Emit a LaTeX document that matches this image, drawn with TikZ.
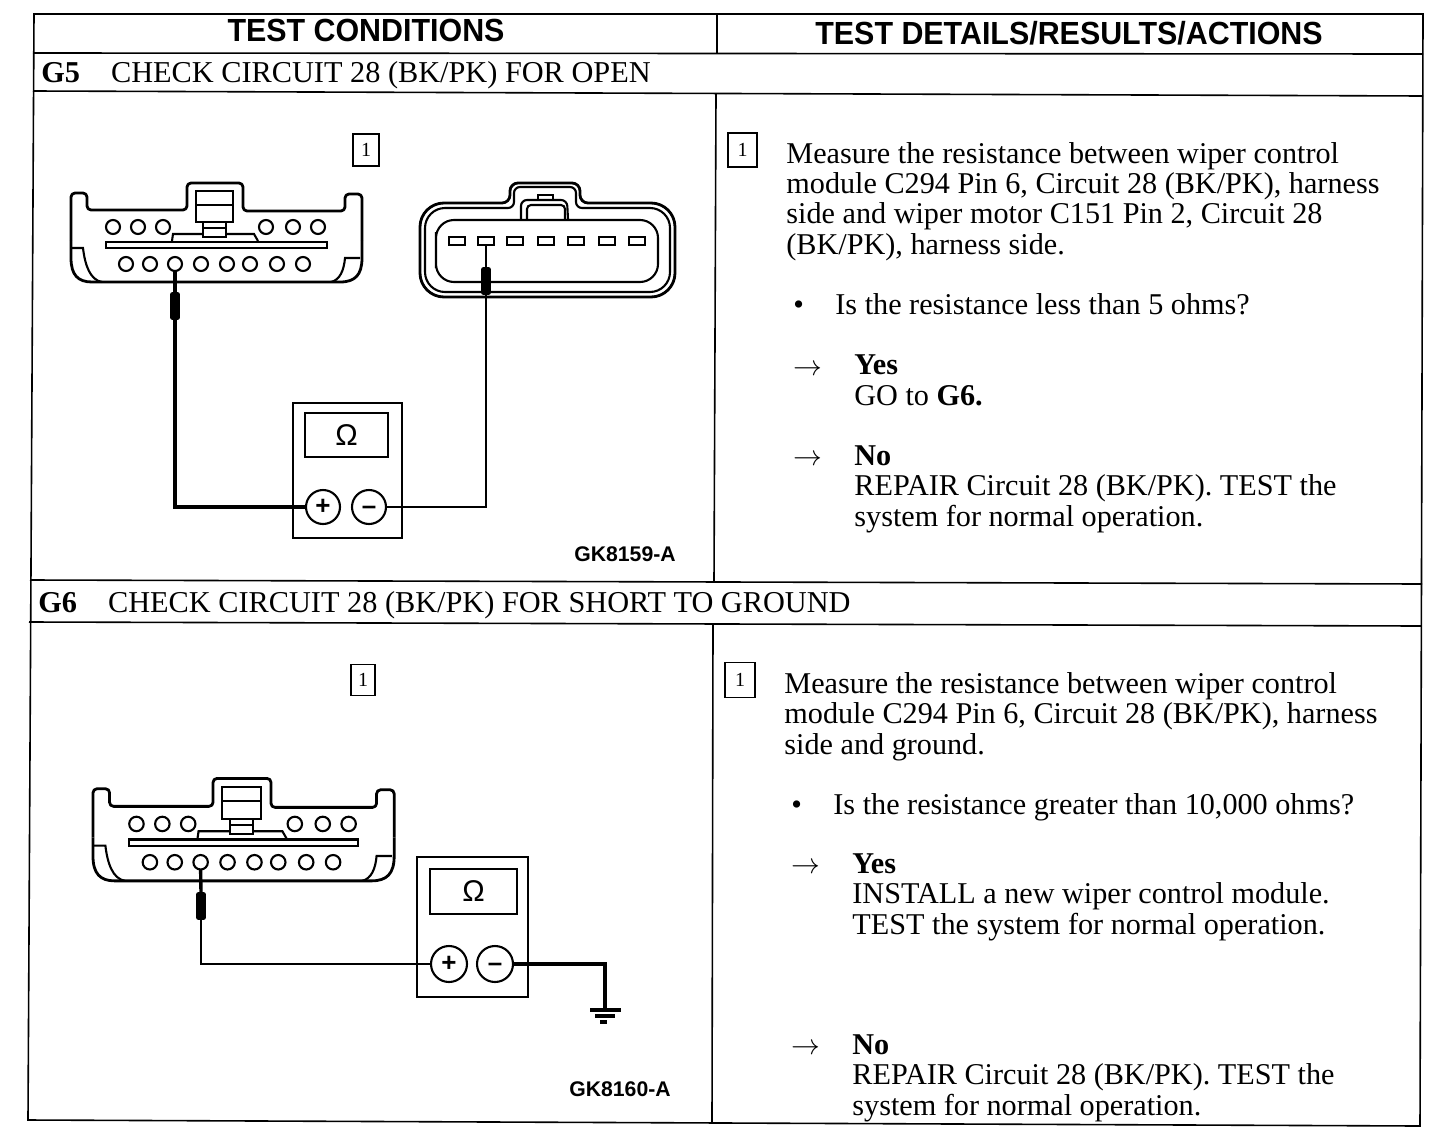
\documentclass[tikz,border=0pt]{standalone}
\usepackage{fontspec}
\setmainfont{Liberation Serif}
\setsansfont{Liberation Sans}
\newfontfamily\headfont[FakeStretch=0.95]{Liberation Sans}
\usetikzlibrary{arrows}

\tikzset{
  rule/.style={line width=0.8pt},
  conn/.style={line width=1.4pt,line join=round},
  thinconn/.style={line width=1.05pt},
  wire/.style={line width=1.7pt},
  thinwire/.style={line width=1.25pt},
  probe/.style={fill=black,draw=black,rounded corners=1pt,inner sep=0pt,minimum width=4.5pt,minimum height=13.5pt},
  term/.style={circle,draw,line width=1.05pt,fill=white,inner sep=0pt,minimum size=17pt,font=\sffamily\bfseries\fontsize{13}{13}\selectfont},
  meter/.style={draw,line width=1.4pt,inner sep=0pt},
  display/.style={draw,line width=1.1pt,inner sep=0pt,font=\sffamily\fontsize{15}{15}\selectfont},
  numbox/.style={draw,line width=0.7pt,inner sep=0pt,minimum width=13pt,minimum height=16pt,font=\fontsize{10}{10}\selectfont},
  head/.style={font=\headfont\bfseries\fontsize{16}{16}\selectfont,inner sep=0pt},
  title/.style={anchor=base west,inner sep=0pt,font=\fontsize{15.15}{15.15}\selectfont},
  body/.style={anchor=base west,inner sep=0pt,align=left,font=\fontsize{15.1}{15.15}\selectfont},
  figno/.style={font=\sffamily\bfseries\fontsize{10.6}{10.6}\selectfont,inner sep=0pt},
}

% wiper control module connector, drawn at G5 position
\newcommand{\wipermodule}[1]{
\draw [conn,rounded corners=2pt] (71,240) -- (71,193) -- (87,193) -- (87,210) -- (187,210) -- (187,183) -- (243,183) -- (243,211) -- (345,211) -- (345,194) -- (362,194) -- (362,240);
\draw [conn] (362,240) -- (362,258) .. controls (362,275) and (355,282) .. (340,282) -- (92,282) .. controls (78,282) and (71,275) .. (71,258) -- (71,240);
\draw [thinconn] (72,248) -- (83,248) .. controls (85,265) and (90,280) .. (102,282);
\draw [thinconn] (360,258) -- (345,258) .. controls (344,270) and (340,280) .. (331,282);
\draw [thinconn] (106,242) rectangle (327,248);
\draw [thinconn] (172,241) -- (173,234) -- (254,234) -- (258,241);
\draw [thinconn,fill=white] (196,191) rectangle (233,222);
\draw [thinconn] (196,205) -- (233,205);
\draw [thinconn,fill=white] (203,222) rectangle (226,237);
\draw [thinconn] (203,228) -- (226,228);
\foreach \x in {113,138,163,266,293,318}
  \draw [thinconn] (\x,227) circle (3.5pt);
\foreach \x in {126,150,175,201,227,250,277,303}
  \draw [thinconn] (\x,264) circle (3.5pt);
\coordinate (#1) at (175,271);
}

\begin{document}
\begin{tikzpicture}[x=0.5pt,y=-0.5pt]
\useasboundingbox (0,0) rectangle (1456,1140);

% table
\draw [rule] (34,14) -- (1423,14) -- (1420,1126) -- (28,1120) -- cycle;
\draw [rule] (33,53) -- (1423,54);
\draw [rule] (33,91) -- (1423,96);
\draw [rule] (30,580) -- (1422,584);
\draw [rule] (29,622) -- (1421,626);
\draw [rule] (717,14) -- (717,54);
\draw [rule] (716,94) -- (714,582);
\draw [rule] (713,625) -- (712,1122);

% headers
\node [head] (condhead) at (366,30) {TEST CONDITIONS};
\node [head] (detailhead) at (1069,33) {TEST DETAILS/RESULTS/ACTIONS};
\node [title] (gfive) at (41,82) {\textbf{G5}\hspace{15.5pt}CHECK CIRCUIT 28 (BK/PK) FOR OPEN};
\node [title] (gsix) at (38,612) {\textbf{G6}\hspace{15.5pt}CHECK CIRCUIT 28 (BK/PK) FOR SHORT TO GROUND};

% G5 picture
\node [numbox] (stepa) at (366,150) {1};
\wipermodule{pina}
\node [probe] (probea) at (175,306) {};
\draw [wire] (pina) -- (probea.north);

\draw [conn,rounded corners=12pt] (420,250) -- (420,203) [rounded corners=4pt] -- (510,203) -- (510,183) -- (580,183) -- (580,203) [rounded corners=12pt] -- (675,203) -- (675,297) -- (420,297) -- cycle;
\draw [thinconn,rounded corners=10pt] (425,250) -- (425,208) [rounded corners=3pt] -- (514,208) -- (514,187) -- (576,187) -- (576,208) [rounded corners=10pt] -- (670,208) -- (670,292) -- (425,292) -- cycle;
\draw [thinconn,rounded corners=9pt] (436,250) -- (436,220) -- (658,220) -- (658,282) -- (436,282) -- cycle;
\draw [thinconn,rounded corners=3pt] (521,219) -- (521,200) -- (567,200) -- (568,219);
\draw [thinconn,rounded corners=2pt] (527,219) -- (527,205) -- (565,205) -- (565,219);
\draw [thinconn] (538,200) -- (538,195) -- (553,195) -- (553,200);
\foreach \x in {457,486,515,546,576,607,637}
  \draw [thinconn] (\x-8,237) rectangle (\x+8,245);
\coordinate (pinb) at (486,245);
\node [probe] (probeb) at (486,281) {};
\draw [thinconn] (pinb) -- (probeb.north);

\node [meter,minimum width=54.5pt,minimum height=67.5pt] (metera) at (347.5,470.5) {};
\node [display,minimum width=41.5pt,minimum height=22pt] (dispa) at (346.5,435) {Ω};
\node [term] (plusa) at (323,507) {+};
\node [term] (minusa) at (369,507) {\vphantom{+}--};
\draw [wire] (probea.south) |- (plusa.west);
\draw [thinwire] (minusa.east) -| (probeb.south);
\node [figno] (figa) at (625,554) {GK8159-A};

% G5 text
\node [numbox,minimum width=14.5pt,minimum height=17pt] (stepb) at (742.5,150) {1};
\node [body] (measa) at (786,254) {Measure the resistance between wiper control\\module C294 Pin 6, Circuit 28 (BK/PK), harness\\side and wiper motor C151 Pin 2, Circuit 28\\(BK/PK), harness side.};
\node [body] (bula) at (793,314) {\textbullet};
\node [body] (quesa) at (835,314) {Is the resistance less than 5 ohms?};
\node [body] (arra) at (793,375) {$\rightarrow$};
\node [body] (yesa) at (854,405) {\textbf{Yes}\\GO to \textbf{G6.}};
\node [body] (arrb) at (793,465) {$\rightarrow$};
\node [body] (noa) at (854,526) {\textbf{No}\\REPAIR Circuit 28 (BK/PK). TEST the\\system for normal operation.};

% G6 picture
\node [numbox,minimum width=12pt,minimum height=15.5pt] (stepc) at (363,680) {1};
\begin{scope}[shift={(19.5,589)},scale=1.035]
\wipermodule{pinc}
\end{scope}
\node [probe] (probec) at (201,906) {};
\draw [wire] (pinc) -- (probec.north);

\node [meter,minimum width=55.5pt,minimum height=70pt] (meterb) at (472.5,927) {};
\node [display,minimum width=43.5pt,minimum height=22.5pt] (dispb) at (473.5,891.5) {Ω};
\node [term,minimum size=18pt] (plusb) at (449,964) {+};
\node [term,minimum size=18pt] (minusb) at (495,964) {\vphantom{+}--};
\coordinate (gnd) at (605,1010);
\draw [thinwire] (probec.south) |- (plusb.west);
\draw [wire] (minusb.east) -| (gnd);
\draw [wire] (590,1010) -- (621,1010);
\draw [wire] (595,1016) -- (615,1016);
\draw [wire] (600,1022) -- (607,1022);
\node [figno] (figb) at (620,1089) {GK8160-A};

% G6 text
\node [numbox,minimum width=15pt,minimum height=17.5pt] (stepd) at (740,680) {1};
\node [body] (measb) at (784,754) {Measure the resistance between wiper control\\module C294 Pin 6, Circuit 28 (BK/PK), harness\\side and ground.};
\node [body] (bulb) at (791,814) {\textbullet};
\node [body] (quesb) at (833,814) {Is the resistance greater than 10,000 ohms?};
\node [body] (arrc) at (791,873) {$\rightarrow$};
\node [body] (yesb) at (852,934) {\textbf{Yes}\\INSTALL a new wiper control module.\\TEST the system for normal operation.};
\node [body] (arrd) at (791,1054) {$\rightarrow$};
\node [body] (nob) at (852,1115) {\textbf{No}\\REPAIR Circuit 28 (BK/PK). TEST the\\system for normal operation.};
\end{tikzpicture}
\end{document}
